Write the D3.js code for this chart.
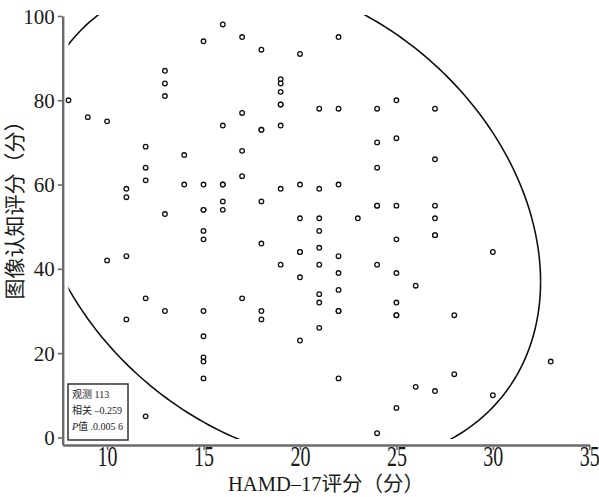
<!DOCTYPE html>
<html>
<head>
<meta charset="utf-8">
<script src="https://cdn.jsdelivr.net/npm/d3@7"></script>
<style>
  html, body { margin: 0; padding: 0; background: #fff; }
  svg { display: block; }
</style>
</head>
<body>
<svg id="chart" width="599" height="497"></svg>
<script>
// ---- data ----
const hamdScores = [
  8,
  9,
  10, 10,
  11, 11, 11, 11,
  12, 12, 12, 12, 12,
  13, 13, 13, 13, 13,
  14, 14,
  15, 15, 15, 15, 15, 15, 15, 15, 15, 15, 15,
  16, 16, 16, 16, 16, 16,
  17, 17, 17, 17, 17,
  18, 18, 18, 18, 18, 18, 18,
  19, 19, 19, 19, 19, 19, 19, 19,
  20, 20, 20, 20, 20, 20, 20,
  21, 21, 21, 21, 21, 21, 21, 21, 21,
  22, 22, 22, 22, 22, 22, 22, 22, 22,
  23,
  24, 24, 24, 24, 24, 24, 24,
  25, 25, 25, 25, 25, 25, 25, 25, 25,
  26, 26,
  27, 27, 27, 27, 27, 27, 27,
  28, 28,
  30, 30,
  33
];
const cognitionScores = [
  80,
  76,
  75, 42,
  59, 57, 43, 28,
  69, 64, 61, 33, 5,
  87, 84, 81, 53, 30,
  67, 60,
  94, 60, 54, 54, 49, 47, 30, 24, 19, 18, 14,
  98, 74, 60, 60, 56, 54,
  95, 77, 68, 62, 33,
  92, 73, 73, 56, 46, 30, 28,
  85, 84, 82, 79, 79, 74, 59, 41,
  91, 60, 52, 44, 44, 38, 23,
  78, 59, 52, 49, 45, 41, 34, 32, 26,
  95, 78, 60, 43, 39, 35, 30, 30, 14,
  52,
  78, 70, 64, 55, 55, 41, 1,
  80, 71, 55, 47, 39, 32, 29, 29, 7,
  36, 12,
  78, 66, 55, 52, 48, 48, 11,
  29, 15,
  44, 10,
  18
];
const xTickValues = [10, 15, 20, 25, 30, 35];
const yTickValues = [0, 20, 40, 60, 80, 100];
const xTitle = "HAMD–17评分（分）";
const yTitle = "图像认知评分（分）";
const statLabels = ["观测", "相关", "值"];
const statValues = ["113", "–0.259", ".0.005 6"];
// 95% ellipse: centre, standard deviations, correlation
const ellipseCenter = [19.28, 51.7];
const ellipseSD = [5.39, 23.6];
const ellipseR = -0.255;
const ellipseLevel = 0.95;

// ---- layout ----
const svg = d3.select("#chart");
const x = d3.scaleLinear().domain([7.7, 35]).range([62.7, 589.3]);
const y = d3.scaleLinear().domain([-1.8, 100]).range([445, 16]);

const serif = "'Liberation Serif', 'Times New Roman', 'Noto Sans CJK SC', serif";
const cjk = "'Liberation Serif', 'Noto Sans CJK SC', serif";

const pts = hamdScores.map((h, i) => [h, cognitionScores[i]]);

// ---- ellipse ----
const [mx, my] = ellipseCenter;
const [sx, sy] = ellipseSD;
const k = Math.sqrt(-2 * Math.log(1 - ellipseLevel));
const l11 = sx;
const l21 = ellipseR * sy;
const l22 = sy * Math.sqrt(1 - ellipseR * ellipseR);
const ellipsePts = d3.range(0, 361).map(deg => {
  const t = deg * Math.PI / 180;
  return [mx + k * l11 * Math.cos(t), my + k * (l21 * Math.cos(t) + l22 * Math.sin(t))];
});

svg.append("clipPath").attr("id", "plotclip")
  .append("rect")
  .attr("x", x(8)).attr("y", y(100) - 1)
  .attr("width", x(35) - x(8))
  .attr("height", y(-0.4) - y(100) + 1);

svg.append("path")
  .datum(ellipsePts)
  .attr("clip-path", "url(#plotclip)")
  .attr("fill", "none")
  .attr("stroke", "#111")
  .attr("stroke-width", 1.6)
  .attr("d", d3.line().x(d => x(d[0])).y(d => y(d[1])));

// ---- axes ----
const yAxis = svg.append("g")
  .attr("transform", `translate(${x.range()[0]},0)`)
  .call(d3.axisLeft(y).tickValues(yTickValues).tickSize(5).tickSizeOuter(0).tickPadding(3));
const xAxis = svg.append("g")
  .attr("transform", `translate(0,${y.range()[0]})`)
  .call(d3.axisBottom(x).tickValues(xTickValues).tickSize(5).tickSizeOuter(0).tickPadding(2));

[yAxis, xAxis].forEach(g => {
  g.select(".domain").attr("stroke", "#6a6a6a").attr("stroke-width", 2.4);
  g.selectAll(".tick line").attr("stroke", "#6a6a6a").attr("stroke-width", 1.6);
  g.selectAll(".tick text").attr("fill", "#1a1a1a").attr("font-family", serif);
});
yAxis.selectAll(".tick text").attr("font-size", 21).attr("dy", "0.34em");
xAxis.selectAll(".tick text")
  .attr("font-size", 20)
  .attr("dy", "0")
  .attr("y", 0)
  .attr("dominant-baseline", "hanging")
  .attr("transform", "translate(0,1) scale(1,1.42)");

// ---- titles ----
svg.append("text")
  .attr("x", (x.range()[0] + x.range()[1]) / 2)
  .attr("y", 491)
  .attr("text-anchor", "middle")
  .attr("font-family", cjk)
  .attr("font-size", 20.5)
  .attr("fill", "#1a1a1a")
  .text(xTitle);

svg.append("text")
  .attr("transform", "translate(15,205) rotate(-90)")
  .attr("text-anchor", "middle")
  .attr("dominant-baseline", "central")
  .attr("font-family", cjk)
  .attr("font-size", 21)
  .attr("fill", "#1a1a1a")
  .text(yTitle);

// ---- points ----
svg.append("g")
  .selectAll("circle")
  .data(pts)
  .join("circle")
  .attr("cx", d => x(d[0]))
  .attr("cy", d => y(d[1]))
  .attr("r", 2.3)
  .attr("fill", "#fff")
  .attr("stroke", "#111")
  .attr("stroke-width", 1.3);

// ---- stats box ----
const box = svg.append("g").attr("transform", "translate(68,384)");
box.append("rect")
  .attr("width", 60).attr("height", 56)
  .attr("fill", "#fff")
  .attr("stroke", "#333")
  .attr("stroke-width", 1.5);
const lineY = [14, 30, 46];
statLabels.forEach((lab, i) => {
  const t = box.append("text")
    .attr("x", 4).attr("y", lineY[i])
    .attr("font-family", cjk)
    .attr("font-size", 10)
    .attr("fill", "#222");
  if (i === 2) {
    t.append("tspan").attr("font-style", "italic").text("P");
  }
  t.append("tspan").text(lab + " " + statValues[i]);
});
</script>
</body>
</html>
